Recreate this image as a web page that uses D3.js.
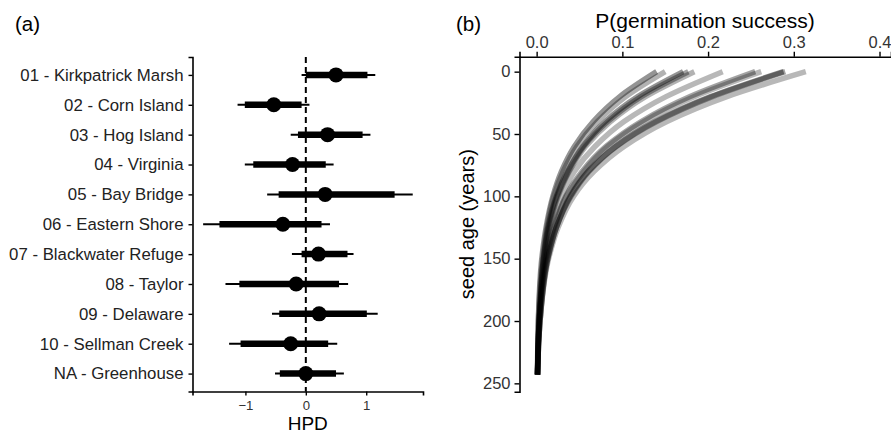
<!DOCTYPE html>
<html>
<head>
<meta charset="utf-8">
<script src="https://cdn.jsdelivr.net/npm/d3@7"></script>
<style>
  body { margin: 0; background: #fff; }
  svg text { font-family: "Liberation Sans", Arial, sans-serif; }
</style>
</head>
<body>
<div id="wrapper"></div>
<script>
// panel (a): HPD intervals per site
const sites = ["01 - Kirkpatrick Marsh", "02 - Corn Island", "03 - Hog Island", "04 - Virginia",
  "05 - Bay Bridge", "06 - Eastern Shore", "07 - Blackwater Refuge", "08 - Taylor",
  "09 - Delaware", "10 - Sellman Creek", "NA - Greenhouse"]
const hpdMid = [0.50, -0.53, 0.36, -0.22, 0.32, -0.38, 0.21, -0.16, 0.22, -0.25, 0.00]
const hpdInnerLo = [0.00, -1.01, -0.13, -0.87, -0.45, -1.43, -0.07, -1.10, -0.44, -1.08, -0.43]
const hpdInnerHi = [1.02, -0.07, 0.94, 0.33, 1.47, 0.26, 0.69, 0.55, 1.01, 0.37, 0.50]
const hpdOuterLo = [-0.07, -1.13, -0.25, -1.01, -0.64, -1.70, -0.23, -1.33, -0.56, -1.27, -0.51]
const hpdOuterHi = [1.15, 0.06, 1.07, 0.46, 1.77, 0.40, 0.79, 0.70, 1.19, 0.52, 0.63]
const hpdTicks = [-1, 0, 1]

// panel (b): germination curves, P read at these seed ages
const seedAges = [0, 20, 40, 60, 80, 100, 125, 150, 200, 243]
const germCurves = [
  [0.140, 0.097, 0.066, 0.044, 0.029, 0.019, 0.011, 0.006, 0.002, 0.001],
  [0.150, 0.104, 0.071, 0.047, 0.031, 0.020, 0.012, 0.007, 0.002, 0.001],
  [0.171, 0.118, 0.080, 0.054, 0.036, 0.023, 0.013, 0.008, 0.003, 0.001],
  [0.177, 0.122, 0.083, 0.055, 0.037, 0.024, 0.014, 0.008, 0.003, 0.001],
  [0.184, 0.127, 0.086, 0.057, 0.038, 0.025, 0.015, 0.009, 0.003, 0.001],
  [0.217, 0.151, 0.102, 0.068, 0.044, 0.029, 0.017, 0.010, 0.003, 0.001],
  [0.255, 0.179, 0.122, 0.081, 0.053, 0.034, 0.020, 0.011, 0.003, 0.001],
  [0.262, 0.184, 0.125, 0.083, 0.055, 0.035, 0.021, 0.012, 0.003, 0.001],
  [0.288, 0.203, 0.138, 0.092, 0.060, 0.039, 0.023, 0.013, 0.004, 0.001],
  [0.290, 0.205, 0.140, 0.093, 0.061, 0.040, 0.023, 0.013, 0.004, 0.001],
  [0.314, 0.222, 0.152, 0.102, 0.067, 0.043, 0.025, 0.014, 0.004, 0.001],
]
const germTicks = [0.0, 0.1, 0.2, 0.3, 0.4]
const ageTicks = [0, 50, 100, 150, 200, 250]

const width = 891
const height = 435

const svg = d3.select("#wrapper")
  .append("svg")
  .attr("width", width)
  .attr("height", height)

// ---------- panel (a)
const a = { left: 192.5, right: 423, top: 57, bottom: 391.5 }

const xA = d3.scaleLinear()
  .domain([-1.876, 1.94])
  .range([a.left, a.right])

const yA = d3.scalePoint()
  .domain(sites)
  .range([a.top, a.bottom])
  .padding(0.6)

const panelA = svg.append("g")

// dashed zero line
panelA.append("line")
  .attr("x1", xA(0)).attr("x2", xA(0))
  .attr("y1", a.top).attr("y2", a.bottom)
  .attr("stroke", "#000")
  .attr("stroke-width", 2)
  .attr("stroke-dasharray", "6,4")

const rows = panelA.selectAll("g.row")
  .data(sites)
  .join("g")
  .attr("class", "row")

rows.append("line")
  .attr("x1", (d, i) => xA(hpdOuterLo[i]))
  .attr("x2", (d, i) => xA(hpdOuterHi[i]))
  .attr("y1", d => yA(d)).attr("y2", d => yA(d))
  .attr("stroke", "#000")
  .attr("stroke-width", 2)

rows.append("line")
  .attr("x1", (d, i) => xA(hpdInnerLo[i]))
  .attr("x2", (d, i) => xA(hpdInnerHi[i]))
  .attr("y1", d => yA(d)).attr("y2", d => yA(d))
  .attr("stroke", "#000")
  .attr("stroke-width", 6.5)

rows.append("circle")
  .attr("cx", (d, i) => xA(hpdMid[i]))
  .attr("cy", d => yA(d))
  .attr("r", 7.5)
  .attr("fill", "#000")

const xAxisA = panelA.append("g")
  .attr("transform", `translate(0, ${a.bottom})`)
  .call(d3.axisBottom(xA).tickValues(hpdTicks).tickFormat(d3.format("d")).tickSize(4).tickPadding(5))

const yAxisA = panelA.append("g")
  .attr("transform", `translate(${a.left}, 0)`)
  .call(d3.axisLeft(yA).tickSize(4).tickPadding(5))

xAxisA.selectAll("text").attr("font-size", 13.2).attr("fill", "#333")
yAxisA.selectAll("text").attr("font-size", 16.8).attr("fill", "#222")

panelA.append("text")
  .attr("x", (a.left + a.right) / 2)
  .attr("y", 430)
  .attr("text-anchor", "middle")
  .attr("font-size", 19)
  .text("HPD")

svg.append("text")
  .attr("x", 15).attr("y", 31)
  .attr("font-size", 20.5)
  .text("(a)")

// ---------- panel (b)
const b = { left: 519.5, right: 891, top: 56.7, bottom: 391.7 }

const xB = d3.scaleLinear()
  .domain([-0.02, 0.4134])
  .range([b.left, b.right])

const yB = d3.scaleLinear()
  .domain([-12, 256.7])
  .range([b.top, b.bottom])

const panelB = svg.append("g")

const lineGen = d3.line()
  .x(d => xB(d[1]))
  .y(d => yB(d[0]))
  .curve(d3.curveMonotoneY)

// black strokes with alpha, so the overlapping tails turn black
const curveAlpha = [0.42, 0.3, 0.42, 0.36, 0.3, 0.28, 0.36, 0.28, 0.42, 0.36, 0.28]

panelB.selectAll("path.germ")
  .data(germCurves)
  .join("path")
  .attr("class", "germ")
  .attr("d", c => lineGen(c.map((p, i) => [seedAges[i], p])))
  .attr("fill", "none")
  .attr("stroke", "#000")
  .attr("stroke-opacity", (c, i) => curveAlpha[i])
  .attr("stroke-width", 5.5)

const xAxisB = panelB.append("g")
  .attr("transform", `translate(0, ${b.top})`)
  .call(d3.axisTop(xB).tickValues(germTicks).tickFormat(d3.format(".1f")).tickSize(5).tickPadding(4))

const yAxisB = panelB.append("g")
  .attr("transform", `translate(${b.left}, 0)`)
  .call(d3.axisLeft(yB).tickValues(ageTicks).tickSize(5).tickPadding(4))

xAxisB.selectAll("text").attr("font-size", 16.5).attr("fill", "#333")
yAxisB.selectAll("text").attr("font-size", 16.5).attr("fill", "#333")

panelB.append("text")
  .attr("x", 705)
  .attr("y", 28)
  .attr("text-anchor", "middle")
  .attr("font-size", 21)
  .text("P(germination success)")

panelB.append("text")
  .attr("transform", `translate(474, ${(b.top + b.bottom) / 2}) rotate(-90)`)
  .attr("text-anchor", "middle")
  .attr("font-size", 20)
  .text("seed age (years)")

svg.append("text")
  .attr("x", 456).attr("y", 31)
  .attr("font-size", 20.5)
  .text("(b)")

// axis styling shared by both panels
svg.selectAll(".domain").attr("stroke", "#000").attr("stroke-width", 1.6)
svg.selectAll(".tick line").attr("stroke", "#000").attr("stroke-width", 1.4)
</script>
</body>
</html>
